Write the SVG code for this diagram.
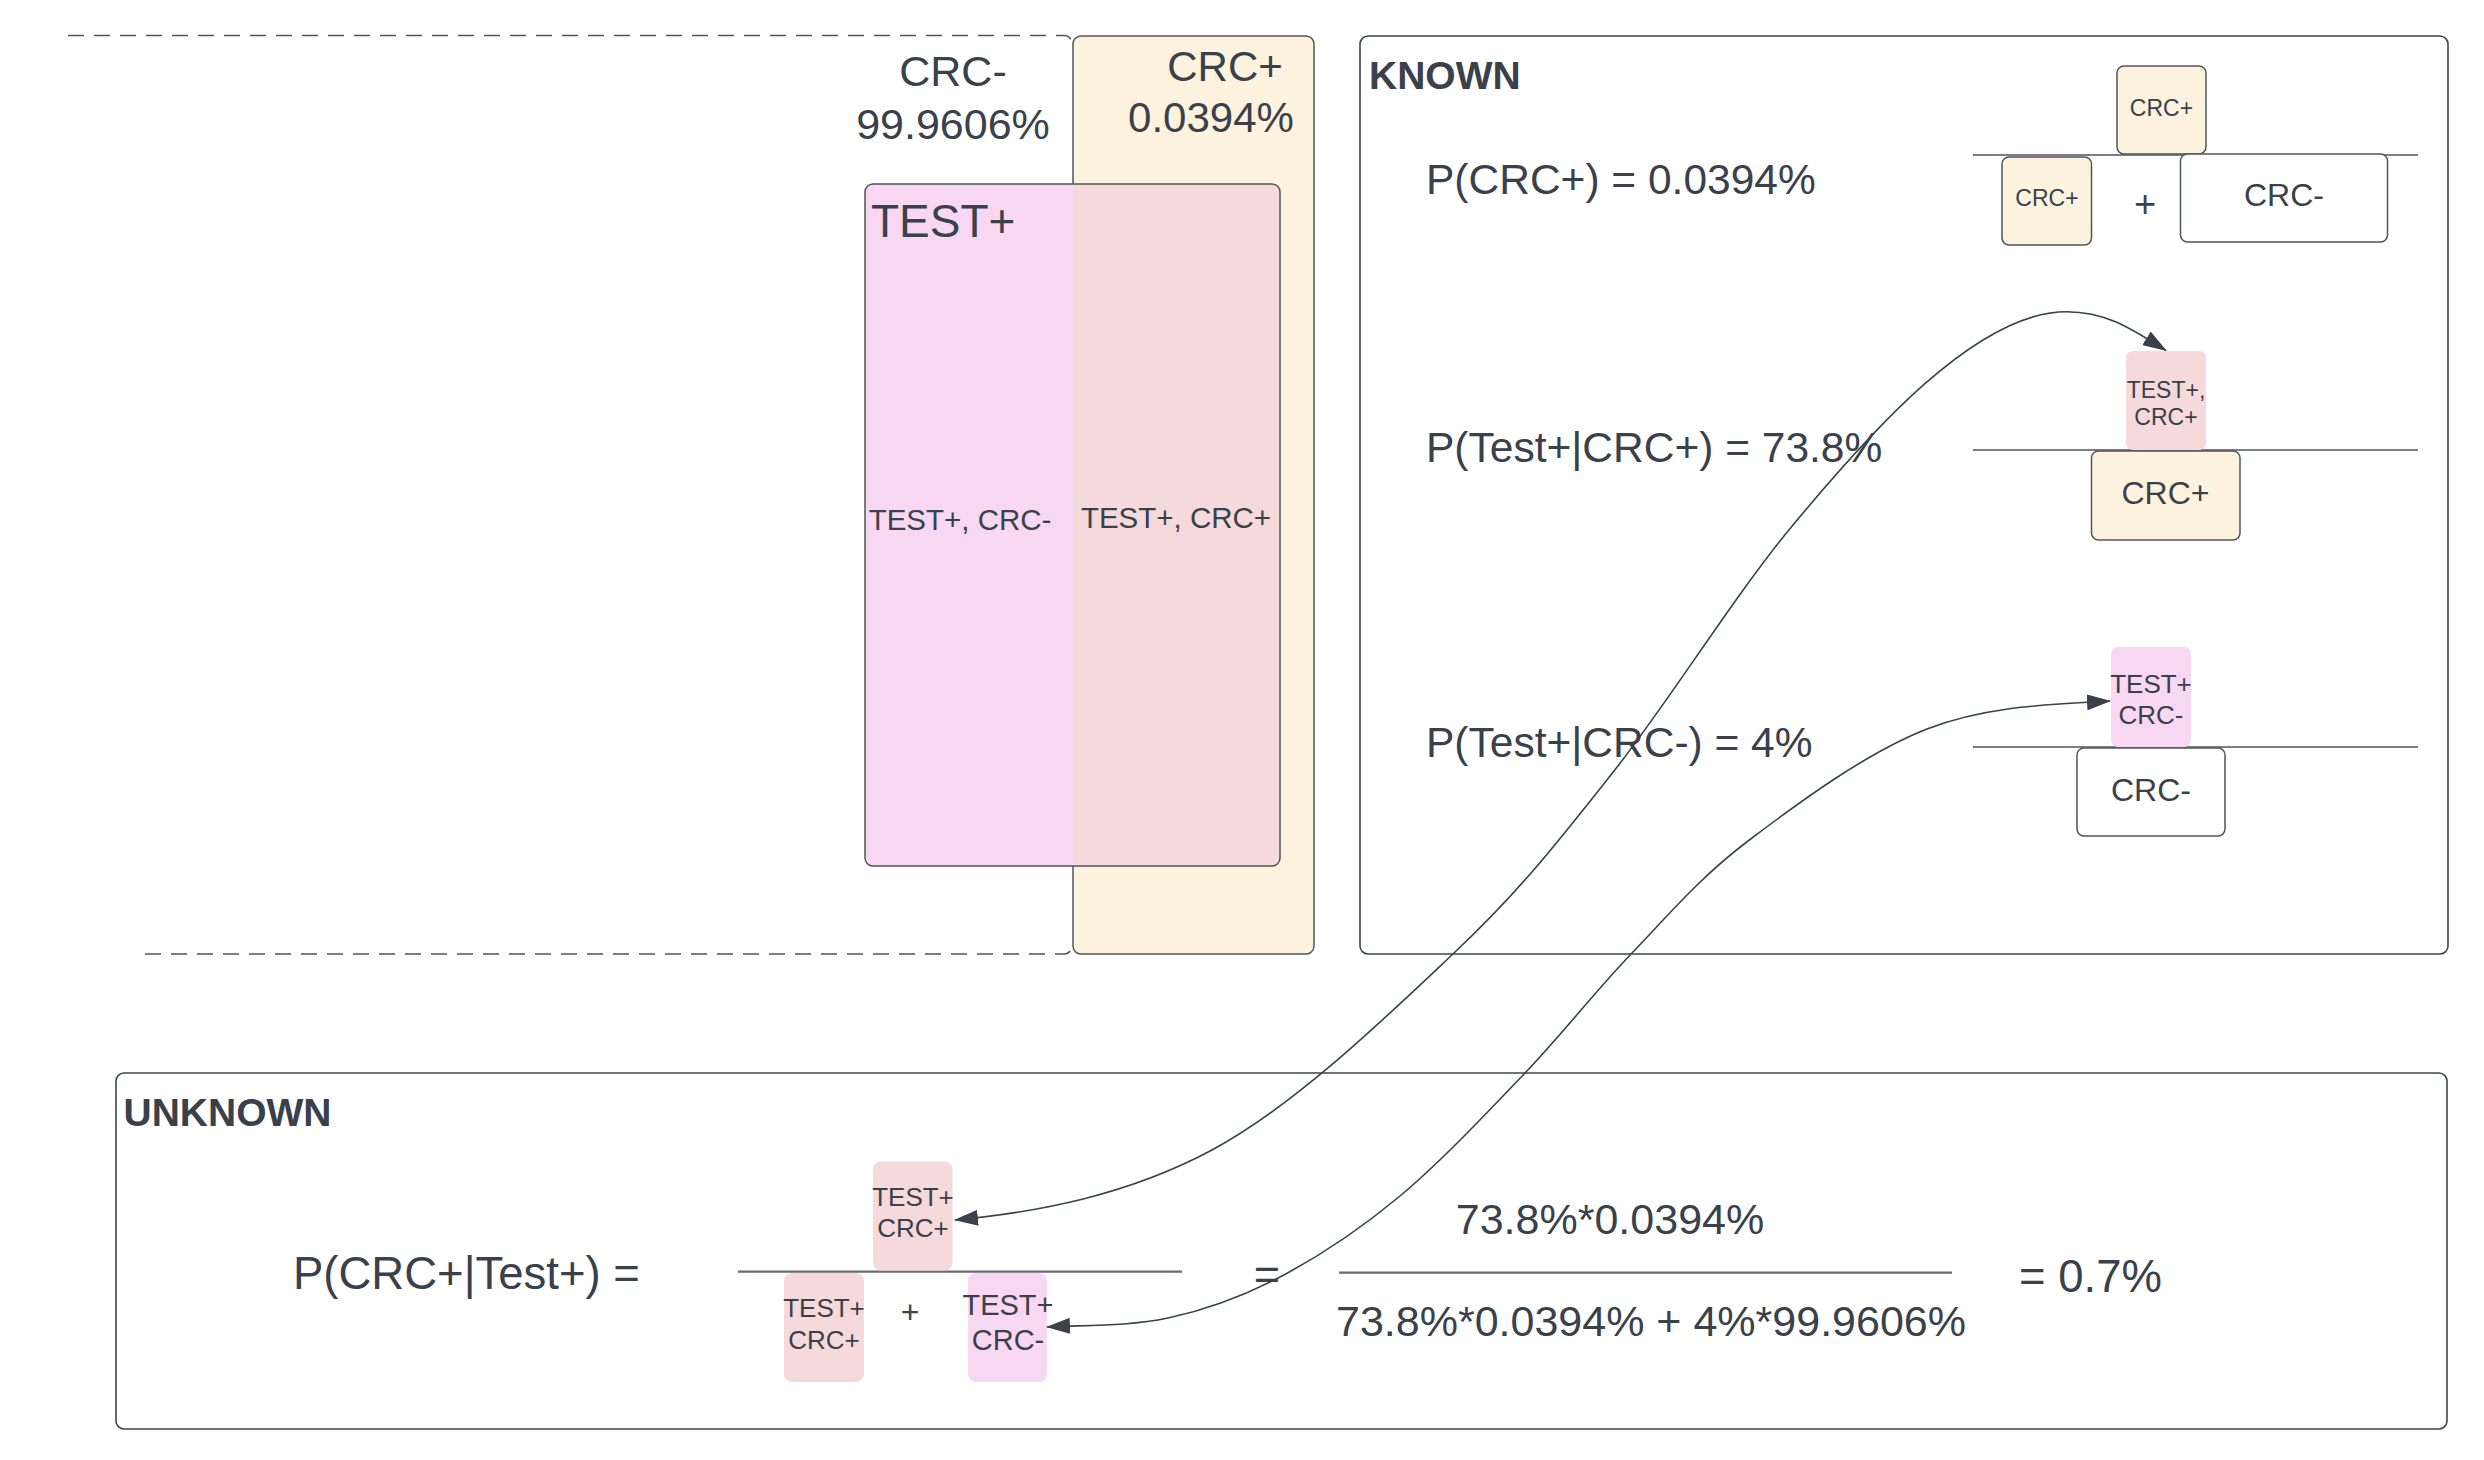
<svg xmlns="http://www.w3.org/2000/svg" width="2484" height="1460" viewBox="0 0 2484 1460">
<style>
text{font-family:"Liberation Sans",Arial,sans-serif;fill:#3a414a}
.frame{fill:#ffffff;stroke:#40454c;stroke-width:1.6}
.box{stroke:#50555c;stroke-width:1.5}
.cream{fill:#fdf2de}
.white{fill:#ffffff}
.salmon{fill:#f6d9da}
.magenta{fill:#f7d7f2}
.frac{stroke:#50555c;stroke-width:1.6;fill:none}
.fracg{stroke:#666b71;stroke-width:2.2;fill:none}
.dash{stroke:#50555c;stroke-width:1.5;fill:none;stroke-dasharray:16 10}
.conn{stroke:#3a414a;stroke-width:1.6;fill:none;marker-start:url(#ah);marker-end:url(#ah)}
.mid{text-anchor:middle}
.bold{font-weight:bold}
</style>
<defs>
<marker id="ah" markerUnits="userSpaceOnUse" markerWidth="24" markerHeight="16" refX="23" refY="8" orient="auto-start-reverse" viewBox="0 0 24 16">
<path d="M0,0 L24,8 L0,16 z" fill="#3a414a"/>
</marker>
</defs>
<rect width="2484" height="1460" fill="#ffffff"/>

<!-- Left Venn-like diagram -->
<g id="crc-minus">
<path class="dash" d="M68 35.5 H1064 A8 8 0 0 1 1072 43.5"/>
<path class="dash" d="M145 954 H1064 A8 8 0 0 0 1072 946"/>
<text class="mid" x="953" y="86" font-size="43">CRC-</text>
<text class="mid" x="953" y="139" font-size="43">99.9606%</text>
</g>
<g id="crc-plus">
<rect class="box cream" x="1073" y="36" width="241" height="918" rx="8"/>
<text class="mid" x="1225" y="81" font-size="42">CRC+</text>
<text class="mid" x="1211" y="132" font-size="42">0.0394%</text>
</g>
<g id="test-plus">
<rect class="magenta" x="865" y="184" width="415" height="682" rx="8"/>
<path class="salmon" d="M1073 184 H1272 A8 8 0 0 1 1280 192 V858 A8 8 0 0 1 1272 866 H1073 Z"/>
<rect class="box" fill="none" x="865" y="184" width="415" height="682" rx="8"/>
<text x="871" y="237" font-size="46">TEST+</text>
<text class="mid" x="960" y="530" font-size="29.5">TEST+, CRC-</text>
<text class="mid" x="1176" y="528" font-size="29.5">TEST+, CRC+</text>
</g>

<!-- KNOWN panel -->
<g id="known">
<rect class="frame" x="1360" y="36" width="1088" height="918" rx="8"/>
<text class="bold" x="1369" y="89" font-size="39">KNOWN</text>
<text x="1426" y="194" font-size="42.5">P(CRC+) = 0.0394%</text>
<text x="1426" y="462" font-size="42.5">P(Test+|CRC+) = 73.8%</text>
<text x="1426" y="757" font-size="42.5">P(Test+|CRC-) = 4%</text>
</g>
<g id="known-f1">
<line class="frac" x1="1973" y1="155" x2="2418" y2="155"/>
<rect class="box cream" x="2117" y="66" width="89" height="88" rx="7"/>
<text class="mid" x="2161.5" y="116" font-size="23">CRC+</text>
<rect class="box cream" x="2002" y="157" width="89.5" height="88" rx="7"/>
<text class="mid" x="2047" y="206" font-size="23">CRC+</text>
<text class="mid" x="2145" y="217" font-size="38">+</text>
<rect class="box white" x="2180.5" y="154" width="207" height="88" rx="7"/>
<text class="mid" x="2284" y="206" font-size="32">CRC-</text>
</g>
<g id="known-f2">
<line class="frac" x1="1973" y1="450" x2="2418" y2="450"/>
<rect class="salmon" x="2126" y="351" width="80" height="99" rx="7"/>
<text class="mid" x="2166" y="397.5" font-size="23">TEST+,</text>
<text class="mid" x="2166" y="425" font-size="23">CRC+</text>
<rect class="box cream" x="2091.5" y="451" width="148.5" height="89" rx="7"/>
<text class="mid" x="2165.5" y="504" font-size="32">CRC+</text>
</g>
<g id="known-f3">
<line class="frac" x1="1973" y1="747" x2="2418" y2="747"/>
<rect class="magenta" x="2111" y="647" width="80" height="100" rx="7"/>
<text class="mid" x="2151" y="692.5" font-size="26">TEST+</text>
<text class="mid" x="2151" y="724" font-size="26">CRC-</text>
<rect class="box white" x="2077" y="748" width="148" height="88" rx="7"/>
<text class="mid" x="2151" y="801" font-size="32">CRC-</text>
</g>

<!-- UNKNOWN panel -->
<g id="unknown">
<rect class="frame" x="116" y="1073" width="2331" height="356" rx="8"/>
<text class="bold" x="123.5" y="1126" font-size="39">UNKNOWN</text>
<text x="293" y="1289" font-size="45.5">P(CRC+|Test+) =</text>
</g>
<g id="unknown-f1">
<line class="fracg" x1="738" y1="1271.7" x2="1182" y2="1271.7"/>
<rect class="salmon" x="873" y="1161.5" width="79.5" height="109" rx="8"/>
<text class="mid" x="913" y="1206" font-size="26">TEST+</text>
<text class="mid" x="913" y="1237" font-size="26">CRC+</text>
<rect class="salmon" x="784" y="1273" width="80" height="109" rx="8"/>
<text class="mid" x="824" y="1317" font-size="26">TEST+</text>
<text class="mid" x="824" y="1348.5" font-size="26">CRC+</text>
<text class="mid" x="910" y="1323" font-size="32">+</text>
<rect class="magenta" x="968" y="1273" width="79" height="109" rx="8"/>
<text class="mid" x="1008" y="1315" font-size="29">TEST+</text>
<text class="mid" x="1008" y="1350" font-size="29">CRC-</text>
</g>
<g id="unknown-eq">
<text class="mid" x="1267" y="1289" font-size="45">=</text>
</g>
<g id="unknown-f2">
<line class="fracg" x1="1339" y1="1272.6" x2="1952" y2="1272.6"/>
<text class="mid" x="1610" y="1234" font-size="43">73.8%*0.0394%</text>
<text class="mid" x="1651" y="1336" font-size="43">73.8%*0.0394% + 4%*99.9606%</text>
</g>
<g id="unknown-result">
<text x="2019" y="1292" font-size="45.5">= 0.7%</text>
</g>

<!-- Connectors -->
<g id="connectors">
<path class="conn" d="M955 1220 C1040 1212 1128.8 1194.5 1212 1150 C1295.2 1105.5 1387 1016.2 1454 953 C1521 889.8 1557.5 842.3 1614 771 C1670.5 699.7 1733.5 596.3 1793 525 C1869.8 432.6 1976.7 311.7 2066.7 311.7 C2106.7 311.7 2132 329.3 2166 350.5"/>
<path class="conn" d="M1047 1327 C1087 1325 1129.2 1326.3 1168 1318 C1206.8 1309.7 1241.3 1297.3 1280 1277 C1318.7 1256.7 1359.2 1230 1400 1196 C1440.8 1162 1486.3 1113.5 1525 1073 C1563.7 1032.5 1594.8 991.7 1632 953 C1669.2 914.3 1698.8 878.3 1748 841 C1797.2 803.7 1866.7 752.3 1927 729 C1987.3 705.7 2050 704.5 2110 701"/>
</g>
</svg>
